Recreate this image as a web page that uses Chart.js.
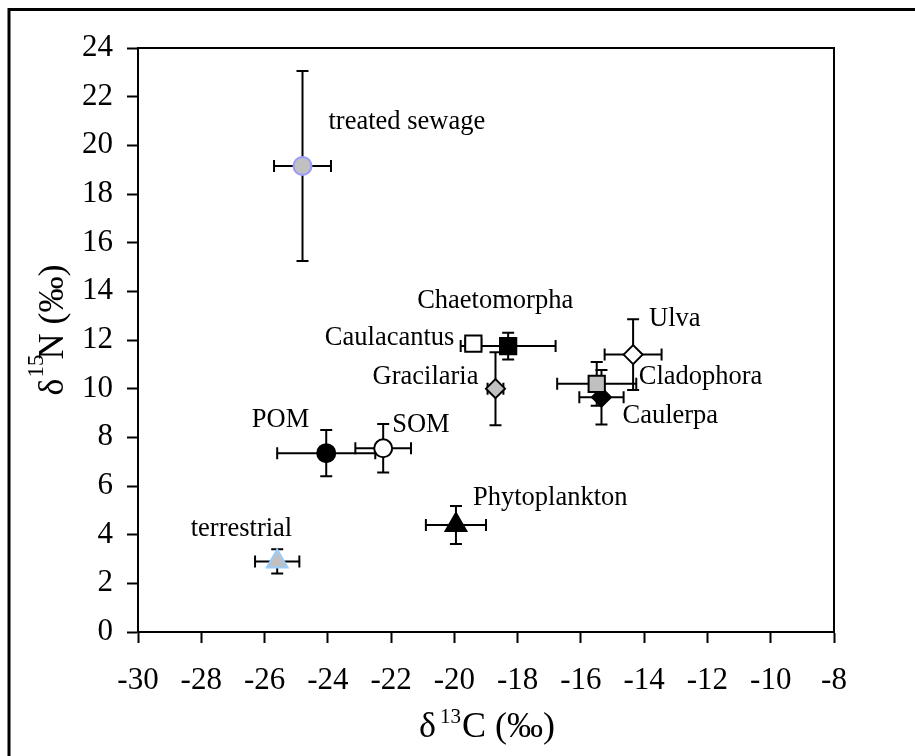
<!DOCTYPE html>
<html>
<head>
<meta charset="utf-8">
<script src="https://cdn.jsdelivr.net/npm/chart.js@4"></script>
<style>
html,body{margin:0;padding:0;background:#fff;}
#wrap{width:915px;height:756px;}
</style>
</head>
<body>
<div id="wrap"><canvas id="c" width="915" height="756"></canvas></div>
<script>
// ---- data ----
const names = ['treated sewage','terrestrial','POM','SOM','Phytoplankton','Caulerpa','Cladophora','Ulva','Gracilaria','Caulacantus','Chaetomorpha'];
const d13C  = [-24.8, -25.6, -24.05, -22.25, -19.95, -15.35, -15.5, -14.35, -18.7, -19.4, -18.3];
const d15N  = [19.15, 2.9, 7.35, 7.55, 4.4, 9.65, 10.2, 11.4, 10.0, 11.85, 11.75];
const errC  = [0.9, 0.7, 1.55, 0.88, 0.95, 0.7, 1.25, 0.9, 0.25, 0.25, 1.5];
const errN  = [3.9, 0.5, 0.95, 1.0, 0.78, 1.12, 0.9, 1.45, 1.5, 0.3, 0.55];
const xTicks = [-30,-28,-26,-24,-22,-20,-18,-16,-14,-12,-10,-8];
const yTicks = [0,2,4,6,8,10,12,14,16,18,20,22,24];
// axis titles: [symbol, superscript, rest]
const xTitle = ['δ', '13', 'C (‰)'];
const yTitle = ['δ', '15', 'N (‰)'];

// ---- styles ----
const GRAY = '#c0c0c0';
const markerStyle = {
  'treated sewage': {s:'circle', r:9, bg:GRAY, bc:'#9999ff'},
  'terrestrial':    {s:'triangle', r:12, bg:GRAY, bc:'#99ccff'},
  'POM':            {s:'circle', r:9, bg:'#000', bc:'#000'},
  'SOM':            {s:'circle', r:9, bg:'#fff', bc:'#000'},
  'Phytoplankton':  {s:'triangle', r:12, bg:'#000', bc:'#000'},
  'Caulerpa':       {s:'rectRot', r:9.5, bg:'#000', bc:'#000'},
  'Cladophora':     {s:'rect', r:11.5, bg:GRAY, bc:'#000'},
  'Ulva':           {s:'rectRot', r:9.5, bg:'#fff', bc:'#000'},
  'Gracilaria':     {s:'rectRot', r:9.5, bg:GRAY, bc:'#000'},
  'Caulacantus':    {s:'rect', r:11.5, bg:'#fff', bc:'#000'},
  'Chaetomorpha':   {s:'rect', r:11.5, bg:'#000', bc:'#000'}
};
// label offsets in px from the marker centre
const labelPos = {
  'treated sewage': {dx:26, dy:-44, a:'left'},
  'terrestrial':    {dx:15, dy:-32, a:'right'},
  'POM':            {dx:-17, dy:-33, a:'right'},
  'SOM':            {dx:9, dy:-23, a:'left'},
  'Phytoplankton':  {dx:17, dy:-27, a:'left'},
  'Caulerpa':       {dx:21, dy:19, a:'left'},
  'Cladophora':     {dx:42, dy:-7, a:'left'},
  'Ulva':           {dx:16, dy:-36, a:'left'},
  'Gracilaria':     {dx:-17, dy:-12, a:'right'},
  'Caulacantus':    {dx:-19, dy:-6, a:'right'},
  'Chaetomorpha':   {dx:-91, dy:-45, a:'left'}
};
const SERIF = '"Liberation Serif","Times New Roman",serif';

const points = names.map((n,i)=>({x:d13C[i], y:d15N[i]}));

const errorBars = {
  id:'errorBars',
  beforeDatasetsDraw(chart){
    const ctx = chart.ctx, xs = chart.scales.x, ys = chart.scales.y;
    ctx.save();
    ctx.strokeStyle = '#000';
    ctx.lineWidth = 2;
    const cap = 6;
    names.forEach((n,i)=>{
      const cx = xs.getPixelForValue(d13C[i]), cy = ys.getPixelForValue(d15N[i]);
      const x1 = xs.getPixelForValue(d13C[i]-errC[i]), x2 = xs.getPixelForValue(d13C[i]+errC[i]);
      const y1 = ys.getPixelForValue(d15N[i]+errN[i]), y2 = ys.getPixelForValue(d15N[i]-errN[i]);
      ctx.beginPath();
      ctx.moveTo(x1,cy); ctx.lineTo(x2,cy);
      ctx.moveTo(x1,cy-cap); ctx.lineTo(x1,cy+cap);
      ctx.moveTo(x2,cy-cap); ctx.lineTo(x2,cy+cap);
      ctx.moveTo(cx,y1); ctx.lineTo(cx,y2);
      ctx.moveTo(cx-cap,y1); ctx.lineTo(cx+cap,y1);
      ctx.moveTo(cx-cap,y2); ctx.lineTo(cx+cap,y2);
      ctx.stroke();
    });
    ctx.restore();
  }
};

// draws a title made of [symbol, superscript, rest] centred at (0,0) on the current transform, baseline at y=0
function drawSupTitle(ctx, parts, mainSize, supSize, supRaise, gap1, gap2){
  ctx.font = mainSize + 'px ' + SERIF;
  const w0 = ctx.measureText(parts[0]).width;
  const w2 = ctx.measureText(parts[2]).width;
  ctx.font = supSize + 'px ' + SERIF;
  const w1 = ctx.measureText(parts[1]).width;
  const total = w0 + gap1 + w1 + gap2 + w2;
  let x = -total/2;
  ctx.textAlign = 'left';
  ctx.textBaseline = 'alphabetic';
  ctx.font = mainSize + 'px ' + SERIF;
  ctx.fillText(parts[0], x, 0);
  x += w0 + gap1;
  ctx.font = supSize + 'px ' + SERIF;
  ctx.fillText(parts[1], x, -supRaise);
  x += w1 + gap2;
  ctx.font = mainSize + 'px ' + SERIF;
  ctx.fillText(parts[2], x, 0);
}

const labelsAndFrame = {
  id:'labelsAndFrame',
  afterDatasetsDraw(chart){
    const ctx = chart.ctx, xs = chart.scales.x, ys = chart.scales.y, ca = chart.chartArea;
    ctx.save();
    // plot frame top/right
    ctx.strokeStyle = '#000';
    ctx.lineWidth = 2;
    ctx.beginPath();
    ctx.moveTo(ca.left, ca.top); ctx.lineTo(ca.right, ca.top); ctx.lineTo(ca.right, ca.bottom);
    ctx.stroke();
    // outer frame (left and top)
    ctx.lineWidth = 3;
    ctx.beginPath();
    ctx.moveTo(9, 760); ctx.lineTo(9, 9.5); ctx.lineTo(920, 9.5);
    ctx.stroke();
    // point labels
    ctx.fillStyle = '#000';
    ctx.font = '26.5px ' + SERIF;
    ctx.textBaseline = 'middle';
    names.forEach((n,i)=>{
      const p = labelPos[n];
      const cx = xs.getPixelForValue(d13C[i]), cy = ys.getPixelForValue(d15N[i]);
      ctx.textAlign = p.a;
      ctx.fillText(n, cx + p.dx, cy + p.dy);
    });
    // axis titles
    ctx.save();
    ctx.translate((ca.left + ca.right)/2 + 1, 737);
    drawSupTitle(ctx, xTitle, 36, 21, 14, 4, 1);
    ctx.restore();
    ctx.save();
    ctx.translate(63, (ca.top + ca.bottom)/2 - 10);
    ctx.rotate(-Math.PI/2);
    drawSupTitle(ctx, yTitle, 36, 23, 20, 1, -5);
    ctx.restore();
    ctx.restore();
  }
};

new Chart(document.getElementById('c'), {
  type:'scatter',
  data:{
    datasets:[{
      data: points,
      pointStyle: names.map(n=>markerStyle[n].s),
      pointRadius: names.map(n=>markerStyle[n].r),
      pointHoverRadius: names.map(n=>markerStyle[n].r),
      backgroundColor: names.map(n=>markerStyle[n].bg),
      borderColor: names.map(n=>markerStyle[n].bc),
      borderWidth: 2,
      showLine:false
    }]
  },
  options:{
    responsive:false,
    animation:false,
    devicePixelRatio:1,
    layout:{padding:{left:0, top:48, right:81, bottom:0}},
    plugins:{legend:{display:false}, tooltip:{enabled:false}},
    scales:{
      x:{
        type:'linear', min:xTicks[0], max:xTicks[xTicks.length-1],
        afterFit(s){ s.height = 124; },
        afterBuildTicks(s){ s.ticks = xTicks.map(v=>({value:v})); },
        ticks:{color:'#000', font:{family:SERIF, size:31}, padding:19, maxRotation:0, autoSkip:false,
               callback:v=>String(v)},
        grid:{drawOnChartArea:false, drawTicks:true, tickLength:11, tickColor:'#000', tickWidth:2},
        border:{display:true, color:'#000', width:2},
        title:{display:false}
      },
      y:{
        type:'linear', min:yTicks[0], max:yTicks[yTicks.length-1],
        afterFit(s){ s.width = 138; },
        afterBuildTicks(s){ s.ticks = yTicks.map(v=>({value:v})); },
        ticks:{color:'#000', font:{family:SERIF, size:31}, padding:14, autoSkip:false,
               callback:v=>String(v)},
        grid:{drawOnChartArea:false, drawTicks:true, tickLength:11, tickColor:'#000', tickWidth:2},
        border:{display:true, color:'#000', width:2},
        title:{display:false}
      }
    }
  },
  plugins:[errorBars, labelsAndFrame]
});
</script>
</body>
</html>
